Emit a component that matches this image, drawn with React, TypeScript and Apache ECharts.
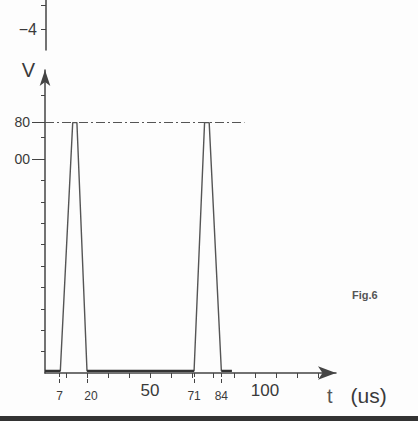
import React, { useEffect, useRef } from "react";
import * as echarts from "echarts";

// ---- data ----
const pulseTime = [0, 7.3, 13.2, 15.2, 20, 71, 76, 78.2, 84, 89];
const pulseVolt = [1, 1, 117, 117, 1, 1, 117, 117, 1, 1];
const baselineTime = [0, 7.3, null, 20, 71, null, 84, 89];
const baselineVolt = [1, 1, null, 1, 1, null, 1, 1];
const peakLevel = 117.4;
const peakLineEnd = 95;
const xMinorTicks = [10, 20, 30, 40, 50, 60, 70, 80, 90, 100, 110, 120, 130];
const xMajorLabels = [50, 100];
const markedTimes = [7, 20, 71, 84];
const yMinorTicks = [10, 20, 30, 40, 50, 60, 70, 80, 90, 100, 110, 130];
const yLabelValues = [100, 117.4];
const yLabelTexts = ["00", "80"];
const topTicks = [-4, -3];
const topLabels = [-4];

const INK = "#444";
const TXT = "#3a3a3a";
const FONT = "'Liberation Sans', Arial, sans-serif";

export default function App() {
  const ref = useRef<HTMLDivElement>(null);
  useEffect(() => {
    document.body.style.margin = "0";
    const chart = echarts.init(ref.current!, null, { renderer: "svg" });
    const pulseData = pulseTime.map((t, i) => [t, pulseVolt[i]]);
    const baseData = baselineTime.map((t, i) =>
      t === null ? [null, null] : [t, baselineVolt[i]]
    );
    chart.setOption({
      animation: false,
      backgroundColor: "#fdfdfd",
      textStyle: { fontFamily: FONT },
      grid: [
        { left: 45, top: 70, width: 291, height: 303 },
        { left: 46, top: 0, width: 100, height: 50 },
      ],
      xAxis: [
        {
          type: "value",
          gridIndex: 0,
          min: 0,
          max: 138.6,
          position: "bottom",
          splitLine: { show: false },
          axisLine: {
            show: true,
            onZero: false,
            symbol: ["none", "arrow"],
            symbolSize: [10, 18],
            lineStyle: { color: INK, width: 1.5 },
          },
          axisTick: {
            show: true,
            customValues: xMinorTicks,
            length: 5,
            lineStyle: { color: INK, width: 1 },
          },
          axisLabel: {
            show: true,
            customValues: xMajorLabels,
            margin: 9,
            fontSize: 17,
            color: TXT,
            fontFamily: FONT,
            formatter: (v: number) => (v === 100 ? "{h|100}" : String(v)),
            rich: { h: { fontSize: 17, color: TXT, padding: [0, 0, 0, 20], fontFamily: FONT } },
          },
          name: "{t|t}{n|(us)}",
          nameLocation: "end",
          nameGap: -9,
          nameTextStyle: {
            color: TXT,
            fontFamily: FONT,
            align: "left",
            verticalAlign: "top",
            rich: {
              t: { fontSize: 20, color: "#555", fontFamily: FONT, padding: [12, 18, 0, 0] },
              n: { fontSize: 21, color: TXT, fontFamily: FONT, padding: [12, 0, 0, 0] },
            },
          },
        },
        {
          type: "value",
          gridIndex: 0,
          min: 0,
          max: 138.6,
          position: "bottom",
          splitLine: { show: false },
          axisLine: { show: false, onZero: false },
          axisTick: {
            show: true,
            customValues: markedTimes,
            length: 11,
            lineStyle: { color: INK, width: 1, type: [4, 2] },
          },
          axisLabel: {
            show: true,
            customValues: markedTimes,
            margin: 17,
            fontSize: 12,
            color: TXT,
            fontFamily: FONT,
            formatter: (v: number) => (v === 20 ? "{s|20}" : String(v)),
            rich: { s: { fontSize: 12, color: TXT, padding: [0, 0, 0, 8], fontFamily: FONT } },
          },
        },
        {
          type: "value",
          gridIndex: 1,
          min: 0,
          max: 10,
          show: false,
        },
      ],
      yAxis: [
        {
          type: "value",
          gridIndex: 0,
          min: 0,
          max: 141.6,
          position: "left",
          splitLine: { show: false },
          axisLine: {
            show: true,
            onZero: false,
            symbol: ["none", "arrow"],
            symbolSize: [8, 16],
            lineStyle: { color: INK, width: 1.5 },
          },
          axisTick: {
            show: true,
            customValues: yMinorTicks,
            length: 4,
            lineStyle: { color: INK, width: 1 },
          },
          axisLabel: { show: false },
          name: "V",
          nameLocation: "end",
          nameGap: 0,
          nameTextStyle: {
            fontSize: 20,
            color: TXT,
            fontFamily: FONT,
            align: "right",
            verticalAlign: "middle",
            padding: [0, 10, 0, 0],
          },
        },
        {
          type: "value",
          gridIndex: 0,
          min: 0,
          max: 141.6,
          position: "left",
          splitLine: { show: false },
          axisLine: { show: false, onZero: false },
          axisTick: {
            show: true,
            customValues: yLabelValues,
            length: 13,
            lineStyle: { color: INK, width: 1 },
          },
          axisLabel: {
            show: true,
            customValues: yLabelValues,
            margin: 15,
            fontSize: 14,
            color: TXT,
            fontFamily: FONT,
            formatter: (v: number) => yLabelTexts[yLabelValues.indexOf(v)] ?? "",
          },
        },
        {
          type: "value",
          gridIndex: 1,
          min: -4.875,
          max: -2.79,
          position: "left",
          splitLine: { show: false },
          axisLine: { show: true, onZero: false, lineStyle: { color: INK, width: 1.5 } },
          axisTick: {
            show: true,
            customValues: topTicks,
            length: 5,
            lineStyle: { color: INK, width: 1 },
          },
          axisLabel: {
            show: true,
            customValues: topLabels,
            margin: 9,
            fontSize: 16,
            color: TXT,
            fontFamily: FONT,
            formatter: (v: number) => (v < 0 ? "\u2212" + Math.abs(v) : String(v)),
          },
        },
      ],
      series: [
        {
          type: "line",
          xAxisIndex: 0,
          yAxisIndex: 0,
          data: pulseData,
          symbol: "none",
          lineStyle: { color: "#555", width: 1.4 },
          markLine: {
            silent: true,
            symbol: "none",
            label: { show: false },
            lineStyle: { color: "#555", width: 1, type: [9, 3, 2, 3] },
            data: [[{ coord: [0, peakLevel] }, { coord: [peakLineEnd, peakLevel] }]],
          },
        },
        {
          type: "line",
          xAxisIndex: 0,
          yAxisIndex: 0,
          data: baseData,
          symbol: "none",
          connectNulls: false,
          lineStyle: { color: "#333", width: 2.2 },
        },
      ],
      graphic: [
        {
          type: "text",
          left: 352,
          top: 289,
          style: { text: "Fig.6", fontSize: 11, fontWeight: "bold", fill: "#555", fontFamily: FONT },
        },
        {
          type: "rect",
          left: 0,
          top: 416,
          shape: { width: 418, height: 5 },
          style: { fill: "#333" },
        },
      ],
    });
    return () => chart.dispose();
  }, []);
  return <div ref={ref} style={{ width: 418, height: 421 }} />;
}
